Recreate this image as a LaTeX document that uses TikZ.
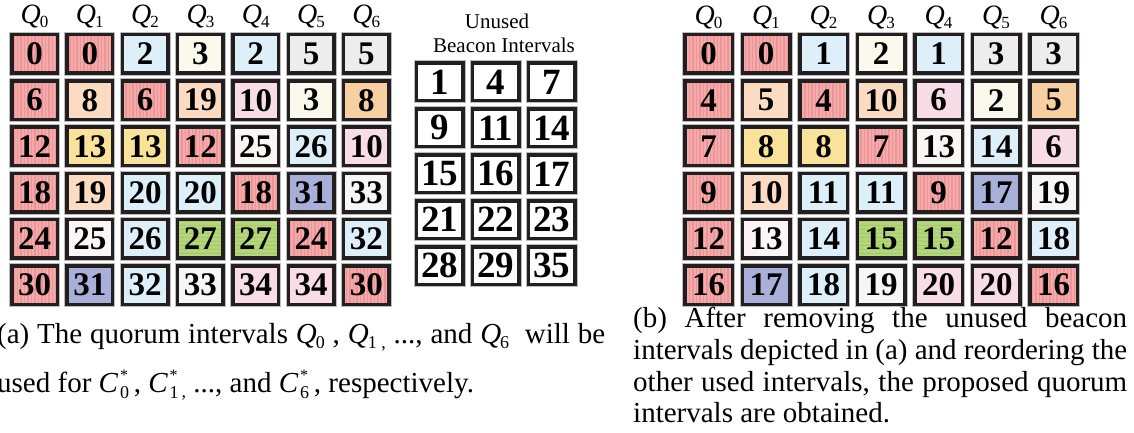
\documentclass[tikz,border=0pt]{standalone}
\usepackage{fontspec}
\setmainfont{Liberation Serif}
\usetikzlibrary{patterns.meta}
\definecolor{boxline}{HTML}{231F20}
\definecolor{shadowc}{HTML}{BDBDBD}
\definecolor{cR}{HTML}{F4ABAB}
\definecolor{cRd}{HTML}{EE9494}
\definecolor{cB}{HTML}{DDF0F9}
\definecolor{cCr}{HTML}{FBF8EC}
\definecolor{cG}{HTML}{EDEDED}
\definecolor{cP}{HTML}{FBDCC3}
\definecolor{cO}{HTML}{F8CFA0}
\definecolor{cY}{HTML}{FBE29A}
\definecolor{cK}{HTML}{F8DCE7}
\definecolor{cW}{HTML}{FBF5F5}
\definecolor{cU}{HTML}{A8AFD8}
\definecolor{cN}{HTML}{B5D67C}
\definecolor{cNd}{HTML}{A2CA62}
\definecolor{cX}{HTML}{F6F6F6}
\newcommand\cellfont{\fontsize{33}{33}\selectfont\bfseries}
\newcommand\ufont{\fontsize{37}{37}\selectfont\bfseries}
\newcommand\Qlab[1]{{\fontsize{28}{28}\selectfont\itshape Q}\kern-1pt\raisebox{-4pt}{\fontsize{17}{17}\selectfont #1}}
\newcommand\Qc[1]{{\itshape Q}\kern-1pt\raisebox{-5pt}{\fontsize{18}{18}\selectfont #1}}
\newcommand\Cc[1]{{\itshape C}\kern2pt\rlap{\raisebox{12pt}{\fontsize{16}{16}\selectfont *}}\raisebox{-6pt}{\fontsize{18}{18}\selectfont #1}}
\tikzset{
  cellbase/.style={rectangle, inner sep=0pt, outer sep=0pt, line width=3.5pt,
    preaction={draw=shadowc, line width=5.5pt}},
  lcell/.style={cellbase, minimum width=45.5pt, minimum height=38.5pt, font=\cellfont},
  rcell/.style={cellbase, minimum width=47.5pt, minimum height=38.5pt, font=\cellfont},
  ucell/.style={cellbase, minimum width=46.5pt, minimum height=37.5pt, font=\ufont, fill=white, draw=boxline},
  fR/.style={preaction={fill=cR}, preaction={pattern={Lines[angle=90,distance=3.5pt,line width=1.2pt]}, pattern color=cRd}, draw=boxline},
  fB/.style={fill=cB, draw=boxline},
  fC/.style={fill=cCr, draw=boxline},
  fG/.style={fill=cG, draw=boxline},
  fP/.style={fill=cP, draw=boxline},
  fO/.style={fill=cO, draw=boxline},
  fY/.style={fill=cY, draw=boxline},
  fK/.style={fill=cK, draw=boxline},
  fW/.style={fill=cW, draw=boxline},
  fU/.style={fill=cU, draw=boxline},
  fN/.style={preaction={fill=cN}, preaction={pattern={Lines[angle=0,distance=4pt,line width=1.4pt]}, pattern color=cNd}, draw=boxline},
  fX/.style={fill=cX, draw=boxline},
  qlab/.style={inner sep=0pt},
  captext/.style={inner sep=0pt, font=\fontsize{29}{32}\selectfont},
  ulab/.style={inner sep=0pt, font=\fontsize{21}{22}\selectfont}
}
\begin{document}
\begin{tikzpicture}[x=1pt,y=-1pt]
\useasboundingbox (0,0) rectangle (1134,433);
% left grid
\foreach \row [count=\j from 0] in {
  {0/fR,0/fR,2/fB,3/fC,2/fB,5/fG,5/fG},
  {6/fR,8/fP,6/fR,19/fP,10/fK,3/fC,8/fO},
  {12/fR,13/fY,13/fY,12/fR,25/fW,26/fB,10/fK},
  {18/fR,19/fP,20/fB,20/fB,18/fR,31/fU,33/fX},
  {24/fR,25/fW,26/fB,27/fN,27/fN,24/fR,32/fB},
  {30/fR,31/fU,32/fB,33/fX,34/fK,34/fK,30/fR}} {
  \foreach \n/\c [count=\i from 0] in \row {
    \node[lcell,\c] (L-\j-\i) at (34.5+55.3*\i, 54+46.2*\j) {\n};
  }
}
% right grid
\foreach \row [count=\j from 0] in {
  {0/fR,0/fR,1/fB,2/fC,1/fB,3/fG,3/fG},
  {4/fR,5/fP,4/fR,10/fP,6/fK,2/fC,5/fO},
  {7/fR,8/fY,8/fY,7/fR,13/fW,14/fB,6/fK},
  {9/fR,10/fP,11/fB,11/fB,9/fR,17/fU,19/fX},
  {12/fR,13/fW,14/fB,15/fN,15/fN,12/fR,18/fB},
  {16/fR,17/fU,18/fB,19/fX,20/fK,20/fK,16/fR}} {
  \foreach \n/\c [count=\i from 0] in \row {
    \node[rcell,\c] (R-\j-\i) at (708.5+57.5*\i, 54+46.2*\j) {\n};
  }
}
% Q labels
\foreach \i in {0,...,6} {
  \node[qlab] (QL-\i) at (34.5+55.3*\i, 17) {\Qlab{\i}};
  \node[qlab] (QR-\i) at (708.5+57.5*\i, 18) {\Qlab{\i}};
}
% unused
\node[ulab] (un1) at (497,21) {Unused};
\node[ulab] (un2) at (504,45) {Beacon Intervals};
\foreach \row [count=\j from 0] in {{1,4,7},{9,11,14},{15,16,17},{21,22,23},{28,29,35}} {
  \foreach \n [count=\i from 0] in \row {
    \node[ucell] (U-\j-\i) at (439.5+56*\i, 82+45.9*\j) {\n};
  }
}
% captions
\node[captext, anchor=base west] (ca1) at (-3,343) {\makebox[608pt][s]{(a) The quorum intervals \Qc{0} , \Qc{1}\raisebox{-5pt}{\fontsize{18}{18}\selectfont\ ,} ..., and \Qc{6} \ will be}};
\node[captext, anchor=base west] (ca2) at (-3,392) {used for \Cc{0}\,, \Cc{1}\raisebox{-5pt}{\fontsize{18}{18}\selectfont\,,} ..., and \Cc{6}\,, respectively.};
\node[captext, anchor=base west] (cb1) at (633,327) {\makebox[494pt][s]{(b) After removing the unused beacon}};
\node[captext, anchor=base west] (cb2) at (633,359) {\makebox[494pt][s]{intervals depicted in (a) and reordering the}};
\node[captext, anchor=base west] (cb3) at (633,391) {\makebox[494pt][s]{other used intervals, the proposed quorum}};
\node[captext, anchor=base west] (cb4) at (633,422) {intervals are obtained.};
\end{tikzpicture}
\end{document}
